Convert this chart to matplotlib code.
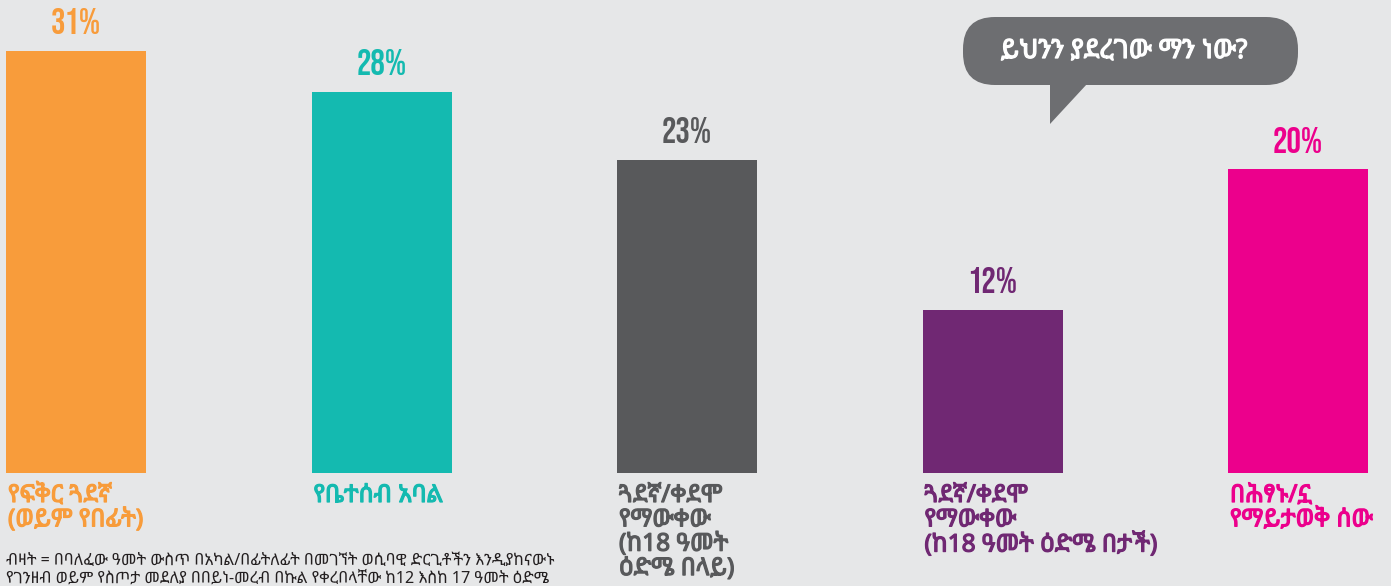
import matplotlib
matplotlib.use("Agg")
import matplotlib.pyplot as plt
from matplotlib import font_manager
from matplotlib.patches import FancyBboxPatch, Polygon
import matplotlib.patheffects as pe

# data
categories = ["የፍቅር ጓደኛ\n(ወይም የበፊት)",
              "የቤተሰብ አባል",
              "ጓደኛ/ቀደሞ\nየማውቀው\n(ከ18 ዓመት\nዕድሜ በላይ)",
              "ጓደኛ/ቀደሞ\nየማውቀው\n(ከ18 ዓመት ዕድሜ በታች)",
              "በሕፃኑ/ኗ\nየማይታወቅ ሰው"]
values = [31, 28, 23, 12, 20]
bar_heights = [31, 28, 23, 12, 22.3]   # last bar is drawn taller than its label in the original
labels = ["31%", "28%", "23%", "12%", "20%"]
colors = ["#F89C3B", "#14BAB0", "#58595B", "#702873", "#EC008C"]
bubble_text = "ይህንን ያደረገው ማን ነው?"
footnote = ("ብዛት = በባለፈው ዓመት ውስጥ በአካል/በፊትለፊት በመገኘት ወሲባዊ ድርጊቶችን እንዲያከናውኑ\n"
            "የገንዘብ ወይም የስጦታ መደለያ በበይነ-መረብ በኩል የቀረበላቸው ከ12 እስከ 17 ዓመት ዕድሜ")

bg = "#E6E7E8"
eth = ["Noto Sans Ethiopic", "DejaVu Sans"]

names = {f.name for f in font_manager.fontManager.ttflist}
num_font = "DejaVu Sans"
for cand in ["Bebas Neue", "Oswald", "Anton", "League Gothic", "Roboto Condensed",
             "Fjalla One", "Liberation Sans Narrow"]:
    if cand in names:
        num_font = cand
        break

W, H = 1391, 586
fig = plt.figure(figsize=(W / 100, H / 100), dpi=100, facecolor=bg)

# bar axes: bottom of bars at 473 px from top
ax = fig.add_axes([0, (H - 473) / H, 1, 473 / H])
ax.set_facecolor(bg)
ax.axis("off")
step = 305.5
x0 = 76 / step
xs = [x0 + i for i in range(len(values))]
ax.set_xlim(0, W / step)
ax.set_ylim(0, 473 / 13.62)
ax.bar(xs, bar_heights, width=140 / step, color=colors)
for x, h, lab, c in zip(xs, bar_heights, labels, colors):
    ax.annotate(lab, (x, h), xytext=(0, 12), textcoords="offset points",
                ha="center", va="bottom", fontsize=26, color=c,
                family=num_font, fontweight="bold")

# overlay axes in pixel units for the text below and the bubble
ov = fig.add_axes([0, 0, 1, 1], facecolor="none")
ov.set_xlim(0, W)
ov.set_ylim(H, 0)
ov.axis("off")

for x, cat, c in zip(xs, categories, colors):
    left = x * step - 70 + 2
    t = ov.text(left, 484, cat, ha="left", va="top", fontsize=17.6, color=c,
                family=eth, linespacing=1.02)
    t.set_path_effects([pe.withStroke(linewidth=0.9, foreground=c)])

ft = ov.text(6, 553, footnote, ha="left", va="top", fontsize=11.6, color="#231F20",
             family=eth, linespacing=1.15)

# speech bubble
ov.add_patch(FancyBboxPatch((963, 17), 335, 68,
                            boxstyle="round,pad=0,rounding_size=32",
                            fc="#6D6E71", ec="none"))
ov.add_patch(Polygon([(1050, 84), (1050, 124), (1087, 84)], closed=True,
                     fc="#6D6E71", ec="none"))
bt = ov.text(1124, 51, bubble_text, ha="center", va="center", fontsize=19,
             color="white", family=eth)
bt.set_path_effects([pe.withStroke(linewidth=0.9, foreground="white")])

fig.savefig("out.png", dpi=100, facecolor=bg)
